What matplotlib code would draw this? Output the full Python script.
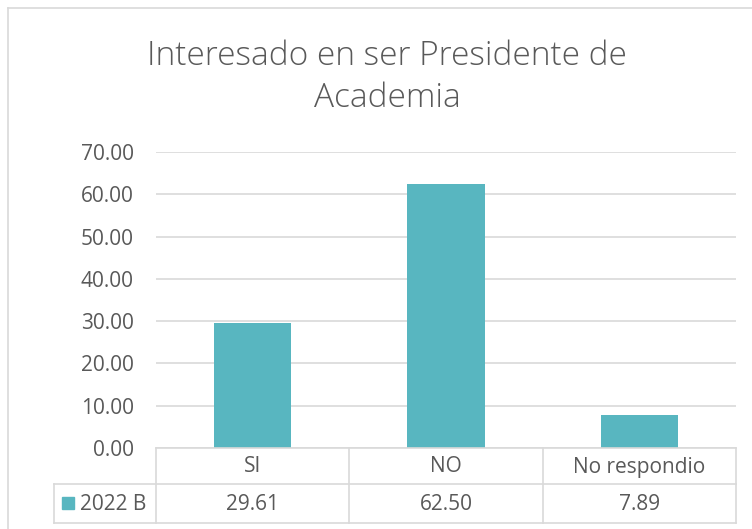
import matplotlib.pyplot as plt
from matplotlib.lines import Line2D
from matplotlib.patches import Rectangle

categories = ['SI', 'NO', 'No respondio']
values_2022b = [29.61, 62.50, 7.89]
series_name = '2022 B'
y_ticks = [0, 10, 20, 30, 40, 50, 60, 70]

W, H = 752, 529
bar_color = '#58B6C0'
text_color = '#595959'
grid_color = '#D9D9D9'

plt.rcParams['font.family'] = ['Open Sans', 'DejaVu Sans']

fig = plt.figure(figsize=(W / 100, H / 100), dpi=100)


def fx(px):
    return px / W


def fy(py):
    return 1 - py / H


# outer chart frame (only left/top visible in the crop)
fig.add_artist(Line2D([fx(8), fx(8)], [fy(8), fy(529)], color=grid_color, lw=1.2))
fig.add_artist(Line2D([fx(8), fx(752)], [fy(8), fy(8)], color=grid_color, lw=1.2))

# plot area
left, right, top, bottom = 156, 736, 152, 448
ax = fig.add_axes([fx(left), fy(bottom), fx(right - left), (bottom - top) / H])
x = range(len(categories))
ax.bar(x, values_2022b, width=0.4, color=bar_color, zorder=3)
ax.set_xlim(-0.5, len(categories) - 0.5)
ax.set_ylim(0, 70)
ax.set_yticks(y_ticks)
ax.set_yticklabels([f'{v:.2f}' for v in y_ticks], fontsize=15, color=text_color)
ax.tick_params(axis='y', length=0, pad=16)
ax.set_xticks([])
ax.grid(axis='y', color=grid_color, lw=1.2, zorder=0)
for s in ax.spines.values():
    s.set_visible(False)

fig.text(fx(387), fy(77), 'Interesado en ser Presidente de\nAcademia', ha='center', va='center',
         fontsize=24, fontweight='light', color=text_color, linespacing=1.35)

# data table below the axes
row1_top, row1_bot, row2_bot = 448, 484, 523
leg_left = 54
col_w = (right - left) / len(categories)
tc = dict(color=grid_color, lw=1.2)
fig.add_artist(Line2D([fx(left), fx(right)], [fy(row1_top)] * 2, **tc))
fig.add_artist(Line2D([fx(leg_left), fx(right)], [fy(row1_bot)] * 2, **tc))
fig.add_artist(Line2D([fx(leg_left), fx(right)], [fy(row2_bot)] * 2, **tc))
fig.add_artist(Line2D([fx(leg_left)] * 2, [fy(row1_bot), fy(row2_bot)], **tc))
for i in range(len(categories) + 1):
    xp = left + i * col_w
    fig.add_artist(Line2D([fx(xp)] * 2, [fy(row1_top), fy(row2_bot)], **tc))

for i, (cat, val) in enumerate(zip(categories, values_2022b)):
    cx = fx(left + (i + 0.5) * col_w)
    fig.text(cx, fy((row1_top + row1_bot) / 2 + 1), cat, ha='center', va='center',
             fontsize=15, color=text_color)
    fig.text(cx, fy((row1_bot + row2_bot) / 2 + 1), f'{val:.2f}', ha='center', va='center',
             fontsize=15, color=text_color)

fig.add_artist(Rectangle((fx(62), fy(509)), fx(12), 12 / H, color=bar_color))
fig.text(fx(80), fy((row1_bot + row2_bot) / 2 + 1), series_name, ha='left', va='center',
         fontsize=15, color=text_color)

fig.savefig('out.png', dpi=100)
